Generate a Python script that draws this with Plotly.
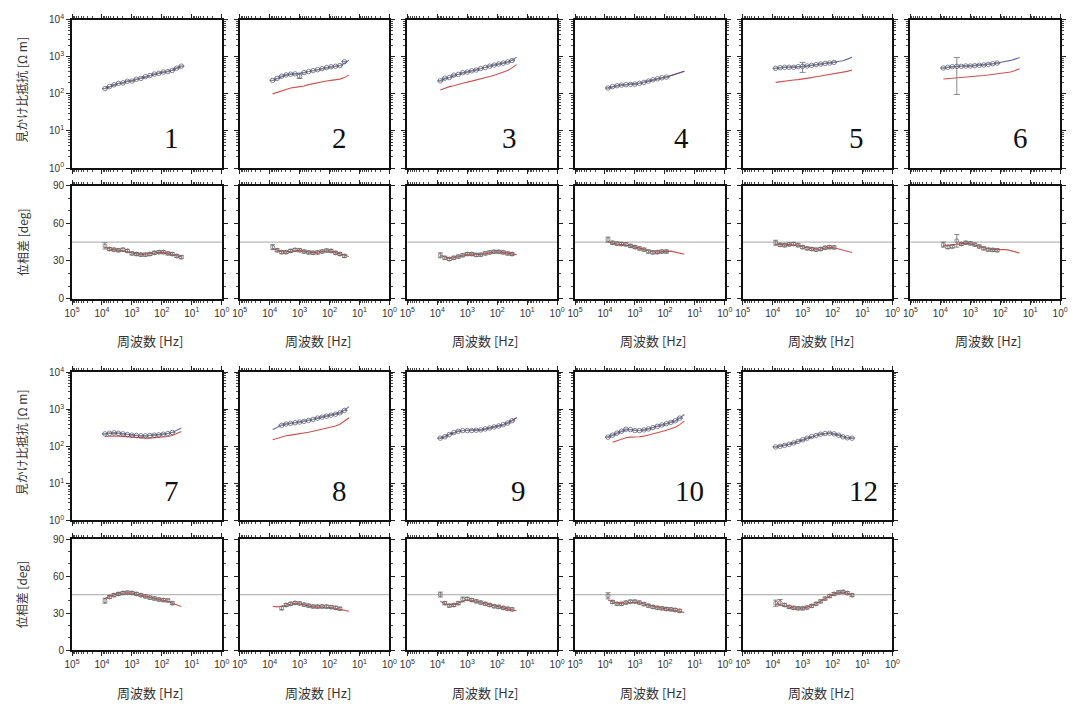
import plotly.graph_objects as go

# ---------------- data ----------------
FREQ_HZ = [7943, 5623, 3981, 2818, 1995, 1413, 1000, 708, 501, 355, 251, 178, 126, 89, 63, 45, 32, 22.4]
PANEL_NAMES = ["1", "2", "3", "4", "5", "6", "7", "8", "9", "10", "12"]
X_TICK_VALS = [1e5, 1e4, 1e3, 1e2, 1e1, 1]
X_TICK_TEXT = ["10<sup>5</sup>", "10<sup>4</sup>", "10<sup>3</sup>", "10<sup>2</sup>", "10<sup>1</sup>", "10<sup>0</sup>"]
RHO_TICK_VALS = [1, 10, 100, 1000, 10000]
RHO_TICK_TEXT = ["10<sup>0</sup>", "10<sup>1</sup>", "10<sup>2</sup>", "10<sup>3</sup>", "10<sup>4</sup>"]
PHS_TICK_VALS = [0, 30, 60, 90]
PHS_REF = 45

RHO_OBS_1 = [139, 158, 175, 192, 198, 220, 222, 248, 262, 292, 312, 343, 358, 388, 398, 430, 495, 560]
RHO_BLUE_1 = [139, 155, 177, 190, 200, 218, 225, 245, 265, 290, 315, 340, 360, 385, 400, 435, 490, 550]
RHO_RED_1 = [139, 155, 177, 190, 200, 218, 225, 245, 265, 290, 315, 340, 360, 385, 400, 435, 490, 550]
PHS_OBS_1 = [42, 39.5, 39, 38.5, 39, 38, 36, 35.5, 35, 35, 35.5, 36.5, 37, 37, 36, 35.5, 34, 33]
PHS_MOD_1 = [41, 39.5, 39, 38.6, 38.3, 37.5, 36.3, 35.5, 35.2, 35.3, 35.8, 36.5, 36.9, 36.8, 36, 35, 34, 33.4]

RHO_OBS_2 = [231, 262, 300, 325, 340, 347, 300, 375, 400, 425, 450, 480, 510, 540, 555, 580, 740, None]
RHO_BLUE_2 = [231, 262, 300, 325, 340, 347, 355, 375, 400, 425, 450, 480, 510, 540, 555, 580, 660, 815]
RHO_RED_2 = [100, 110, 123, 137, 144, 150, 156, 163, 178, 190, 200, 213, 222, 232, 240, 250, 275, 326]
PHS_OBS_2 = [41, 38.5, 37, 37, 38, 38.8, 38.5, 37.5, 36.8, 36.5, 36.8, 37.5, 38.3, 38, 36.5, 35.5, 34, None]
PHS_MOD_2 = [40, 38.5, 37.3, 37.2, 37.8, 38.5, 38.5, 37.6, 36.9, 36.6, 36.9, 37.5, 38.1, 37.8, 36.6, 35.5, 34.3, 33.5]

RHO_OBS_3 = [225, 265, 275, 320, 335, 372, 388, 420, 440, 485, 515, 560, 598, 640, 675, 725, 800, None]
RHO_BLUE_3 = [231, 255, 280, 313, 340, 368, 392, 417, 443, 480, 521, 554, 601, 638, 679, 722, 816, 980]
RHO_RED_3 = [128, 144, 157, 166, 181, 192, 208, 221, 235, 250, 272, 295, 319, 347, 376, 425, 502, 614]
PHS_OBS_3 = [34.5, 32.5, 31.5, 32.5, 33.5, 34.5, 35.5, 35.5, 34.8, 35, 36, 36.8, 37.3, 37.3, 36.8, 36, 35.5, None]
PHS_MOD_3 = [34.5, 33, 32, 32.6, 33.5, 34.5, 35.3, 35.4, 35, 35.1, 35.9, 36.7, 37.2, 37.2, 36.7, 36, 35.4, 35]

RHO_OBS_4 = [144, 157, 166, 173, 177, 181, 184, 192, 204, 221, 240, 255, 272, 283, None, None, None, None]
RHO_BLUE_4 = [144, 157, 166, 173, 177, 181, 184, 192, 204, 221, 240, 255, 272, 283, 307, 340, 368, 407]
RHO_RED_4 = [146, 158, 167, 174, 178, 182, 186, 194, 206, 222, 241, 256, 273, 285, 308, 341, 370, 410]
PHS_OBS_4 = [47, 44.5, 43.8, 43.5, 43.2, 42, 41, 40, 39, 37.5, 36.8, 37, 37.5, 37.5, None, None, None, None]
PHS_MOD_4 = [45, 44, 43.5, 43.2, 42.8, 42, 41, 40, 39, 38, 37.3, 37, 37.3, 37.8, 37.8, 37, 36, 35.4]

RHO_OBS_5 = [490, 510, 521, 521, 521, 543, 554, 565, 589, 614, 638, 665, 679, 708, None, None, None, None]
RHO_BLUE_5 = [490, 510, 521, 521, 521, 543, 554, 565, 589, 614, 638, 665, 679, 708, 736, 783, 867, 980]
RHO_RED_5 = [205, 215, 225, 232, 238, 243, 250, 262, 275, 290, 305, 320, 332, 345, 360, 375, 405, 443]
PHS_OBS_5 = [44.5, 42.8, 42.5, 43.2, 43.5, 42.5, 41, 40, 39.5, 39, 39.5, 40.5, 41, 40.8, None, None, None, None]
PHS_MOD_5 = [43.5, 43, 42.8, 43, 43, 42.5, 41.3, 40.3, 39.7, 39.3, 39.5, 40.3, 40.8, 40.5, 39.5, 38.5, 37.5, 36.7]

RHO_OBS_6 = [500, 521, 543, 554, 554, 565, 565, 577, 589, 601, 626, 652, 679, None, None, None, None, None]
RHO_BLUE_6 = [500, 521, 543, 554, 554, 565, 565, 577, 589, 601, 626, 652, 679, 708, 754, 800, 867, 960]
RHO_RED_6 = [253, 258, 263, 268, 273, 278, 285, 292, 300, 312, 322, 335, 345, 355, 368, 390, 425, 480]
PHS_OBS_6 = [43, 41, 41.5, 46, 43.5, 44.5, 44, 43, 41.5, 40, 39, 38.8, 38.5, None, None, None, None, None]
PHS_MOD_6 = [42.5, 42.5, 42.8, 43.2, 43.8, 44.2, 43.8, 42.8, 41.5, 40.3, 39.5, 39, 39, 39.3, 39, 38.2, 37.2, 36.3]

RHO_OBS_7 = [217, 225, 231, 225, 217, 208, 200, 196, 192, 192, 196, 200, 204, 212, 221, 236, None, None]
RHO_BLUE_7 = [217, 225, 231, 225, 217, 208, 200, 196, 192, 192, 196, 200, 204, 212, 221, 236, 265, 313]
RHO_RED_7 = [184, 190, 190, 188, 184, 177, 173, 169, 166, 166, 166, 169, 173, 177, 184, 196, 217, 250]
PHS_OBS_7 = [40, 43, 44.5, 45.5, 46.3, 46.6, 46.3, 45.5, 44.5, 43.5, 42.5, 41.8, 41, 40.5, 40.2, 38, None, None]
PHS_MOD_7 = [42, 43.5, 44.8, 45.8, 46.3, 46.5, 46.2, 45.5, 44.5, 43.5, 42.6, 41.8, 41.2, 40.5, 39.5, 38, 36.5, 35.3]

RHO_OBS_8 = [None, None, 368, 400, 417, 434, 452, 471, 501, 532, 577, 614, 652, 693, 736, 800, 930, None]
RHO_BLUE_8 = [283, 326, 368, 400, 417, 434, 452, 471, 501, 532, 577, 614, 652, 693, 736, 800, 940, 1178]
RHO_RED_8 = [150, 165, 180, 192, 200, 208, 218, 228, 240, 255, 270, 290, 310, 330, 355, 395, 470, 590]
PHS_OBS_8 = [None, None, 34, 36.5, 37.5, 38.2, 37.8, 36.8, 36, 35.3, 35.2, 35.3, 35.2, 34.8, 34.3, 33.5, None, None]
PHS_MOD_8 = [35.5, 35, 35.5, 36.5, 37.5, 38, 37.5, 36.5, 35.5, 35, 35, 35, 35, 34.5, 33.8, 33, 32.2, 31.5]

RHO_OBS_9 = [166, 181, 208, 235, 255, 266, 266, 266, 272, 277, 295, 313, 333, 354, 384, 425, 490, None]
RHO_BLUE_9 = [166, 181, 208, 235, 255, 266, 266, 266, 272, 277, 295, 313, 333, 354, 384, 425, 490, 589]
RHO_RED_9 = [168, 183, 210, 236, 256, 267, 267, 267, 273, 278, 296, 314, 334, 355, 385, 426, 492, 592]
PHS_OBS_9 = [45, 38, 36, 36.5, 38, 41, 41.5, 40.5, 39.5, 38.5, 37.5, 36.5, 35.5, 35, 34.2, 33.5, 33, None]
PHS_MOD_9 = [39.5, 37.5, 36.5, 36.8, 38, 39.8, 40.8, 40.5, 39.6, 38.6, 37.6, 36.6, 35.7, 35, 34.2, 33.4, 32.6, 31.8]

RHO_OBS_10 = [177, 200, 226, 255, 289, 283, 266, 266, 277, 295, 319, 347, 376, 408, 443, 490, 577, None]
RHO_BLUE_10 = [177, 200, 226, 255, 280, 280, 270, 268, 277, 295, 319, 347, 376, 408, 443, 490, 577, 722]
RHO_RED_10 = [None, 128, 141, 157, 170, 177, 177, 181, 188, 200, 217, 235, 250, 272, 295, 326, 384, 480]
PHS_OBS_10 = [44, 39, 37.5, 37.5, 38.5, 39.3, 39.3, 38.5, 37.2, 36, 35, 34.3, 33.8, 33.3, 33, 32.5, 31.8, None]
PHS_MOD_10 = [40.5, 39, 38, 37.8, 38.4, 39, 39, 38.3, 37.2, 36.1, 35.2, 34.5, 34, 33.5, 33, 32.3, 31.5, 30.5]

RHO_OBS_12 = [96, 100, 106, 113, 123, 136, 150, 166, 184, 196, 212, 221, 226, 217, 200, 181, 170, 166]
RHO_BLUE_12 = [96, 100, 106, 113, 123, 136, 150, 166, 184, 196, 212, 221, 226, 217, 200, 181, 170, 166]
RHO_RED_12 = [97, 101, 107, 114, 124, 137, 151, 167, 185, 197, 213, 222, 227, 218, 201, 182, 171, 167]
PHS_OBS_12 = [38, 38.5, 36.5, 35, 34.2, 33.8, 33.8, 34.5, 35.8, 37.5, 39.5, 41.7, 43.8, 45.5, 46.8, 47.2, 46.2, 44.5]
PHS_MOD_12 = [37.5, 36.5, 35.5, 34.8, 34.2, 33.9, 34, 34.7, 35.9, 37.6, 39.6, 41.8, 43.9, 45.6, 46.7, 47, 46, 44.5]

# observed error bars
PHS_ERR_DEFAULT = 1.2
PHS_ERR_FIRST = [2.5, 2, 2, 2, 2, 2, 2, 1.5, 2, 2.5, 2.5]
PHS_ERR_SPECIAL_PANEL = ["6", "9", "12"]
PHS_ERR_SPECIAL_INDEX = [3, 5, 1]
PHS_ERR_SPECIAL_VALUE = [5, 2, 2.5]
RHO_ERR_PANEL = ["2", "5", "6"]
RHO_ERR_INDEX = [6, 6, 3]
RHO_ERR_LOW = [262, 380, 96]
RHO_ERR_HIGH = [345, 708, 960]

RHO_OBS = [RHO_OBS_1, RHO_OBS_2, RHO_OBS_3, RHO_OBS_4, RHO_OBS_5, RHO_OBS_6,
           RHO_OBS_7, RHO_OBS_8, RHO_OBS_9, RHO_OBS_10, RHO_OBS_12]
RHO_BLUE = [RHO_BLUE_1, RHO_BLUE_2, RHO_BLUE_3, RHO_BLUE_4, RHO_BLUE_5, RHO_BLUE_6,
            RHO_BLUE_7, RHO_BLUE_8, RHO_BLUE_9, RHO_BLUE_10, RHO_BLUE_12]
RHO_RED = [RHO_RED_1, RHO_RED_2, RHO_RED_3, RHO_RED_4, RHO_RED_5, RHO_RED_6,
           RHO_RED_7, RHO_RED_8, RHO_RED_9, RHO_RED_10, RHO_RED_12]
PHS_OBS = [PHS_OBS_1, PHS_OBS_2, PHS_OBS_3, PHS_OBS_4, PHS_OBS_5, PHS_OBS_6,
           PHS_OBS_7, PHS_OBS_8, PHS_OBS_9, PHS_OBS_10, PHS_OBS_12]
PHS_MOD = [PHS_MOD_1, PHS_MOD_2, PHS_MOD_3, PHS_MOD_4, PHS_MOD_5, PHS_MOD_6,
           PHS_MOD_7, PHS_MOD_8, PHS_MOD_9, PHS_MOD_10, PHS_MOD_12]

# ---------------- layout geometry (pixels) ----------------
W, H = 1077, 711
COL_LEFT0, COL_STEP, PANEL_W = 65, 170.2, 152
ROW_RES = [(13, 164), (372, 523)]
ROW_PHS = [(182, 297), (542, 655)]
LABEL_DX = [101, 101, 104, 108, 115, 112, 101, 101, 113, 116, 123]

BLUE = "#3b46a6"
RED = "#d2504c"
MARK = "#4d5070"
TXT = "#333333"
SANS = "Liberation Sans, Arial, sans-serif"
CJK = "Noto Sans CJK JP, sans-serif"


def xd(col):
    left = COL_LEFT0 + col * COL_STEP
    return [left / W, (left + PANEL_W) / W]


def yd(top, bot):
    return [1 - bot / H, 1 - top / H]


fig = go.Figure()
layout = dict(width=W, height=H, margin=dict(l=0, r=0, t=0, b=0),
              paper_bgcolor="white", plot_bgcolor="white", showlegend=False,
              font=dict(family=SANS, size=11, color=TXT))
annotations = []
shapes = []

axis_common = dict(showline=True, linewidth=2, linecolor="#111", mirror="allticks",
                   ticks="outside", ticklen=4, tickwidth=1, tickcolor="#222",
                   showgrid=False, zeroline=False, tickfont=dict(size=10, color=TXT, family=SANS))

for i, name in enumerate(PANEL_NAMES):
    row = 0 if i < 6 else 1
    col = i if i < 6 else i - 6
    nr, npz = 2 * i + 1, 2 * i + 2
    xr_key = "xaxis" if nr == 1 else f"xaxis{nr}"
    yr_key = "yaxis" if nr == 1 else f"yaxis{nr}"
    xp_key, yp_key = f"xaxis{npz}", f"yaxis{npz}"
    xr_ref = "x" if nr == 1 else f"x{nr}"
    yr_ref = "y" if nr == 1 else f"y{nr}"
    xp_ref, yp_ref = f"x{npz}", f"y{npz}"

    xlog = dict(axis_common, type="log", range=[5, 0], tickmode="array",
                tickvals=X_TICK_VALS, ticktext=X_TICK_TEXT,
                minor=dict(ticks="outside", ticklen=2, tickcolor="#444", dtick="D1", showgrid=False))
    layout[xr_key] = dict(xlog, domain=xd(col), anchor=yr_ref, showticklabels=False)
    layout[xp_key] = dict(xlog, domain=xd(col), anchor=yp_ref, showticklabels=True)
    layout[yr_key] = dict(axis_common, type="log", range=[0, 4], domain=yd(*ROW_RES[row]),
                          anchor=xr_ref, tickmode="array", tickvals=RHO_TICK_VALS,
                          ticktext=RHO_TICK_TEXT, showticklabels=(col == 0),
                          minor=dict(ticks="outside", ticklen=2, tickcolor="#444", dtick="D1", showgrid=False))
    layout[yp_key] = dict(axis_common, range=[0, 90], domain=yd(*ROW_PHS[row]),
                          anchor=xp_ref, tickmode="array", tickvals=PHS_TICK_VALS,
                          showticklabels=(col == 0),
                          minor=dict(ticks="outside", ticklen=2, tickcolor="#444", dtick=10, showgrid=False))

    # resistivity
    fig.add_trace(go.Scatter(x=FREQ_HZ, y=RHO_RED[i], mode="lines", line=dict(color=RED, width=1.1),
                             xaxis=xr_ref, yaxis=yr_ref))
    fig.add_trace(go.Scatter(x=FREQ_HZ, y=RHO_BLUE[i], mode="lines", line=dict(color=BLUE, width=1.1),
                             opacity=0.8, xaxis=xr_ref, yaxis=yr_ref))
    up = [0.0] * len(FREQ_HZ)
    dn = [0.0] * len(FREQ_HZ)
    for p, k, lo, hi in zip(RHO_ERR_PANEL, RHO_ERR_INDEX, RHO_ERR_LOW, RHO_ERR_HIGH):
        if p == name:
            up[k] = hi - RHO_OBS[i][k]
            dn[k] = RHO_OBS[i][k] - lo
    fig.add_trace(go.Scatter(x=FREQ_HZ, y=RHO_OBS[i], mode="markers",
                             marker=dict(symbol="circle-open", size=4.5, color=MARK, line=dict(width=0.7)),
                             error_y=dict(type="data", symmetric=False, array=up, arrayminus=dn,
                                          color="#8a8a8a", thickness=1, width=3),
                             xaxis=xr_ref, yaxis=yr_ref))

    # phase
    shapes.append(dict(type="line", xref=f"{xp_ref} domain", yref=yp_ref, x0=0, x1=1,
                       y0=PHS_REF, y1=PHS_REF, line=dict(color="#b8b8b8", width=1.2), layer="below"))
    fig.add_trace(go.Scatter(x=FREQ_HZ, y=PHS_MOD[i], mode="lines", line=dict(color=RED, width=1.1),
                             xaxis=xp_ref, yaxis=yp_ref))
    perr = [PHS_ERR_DEFAULT] * len(FREQ_HZ)
    first = next(k for k, v in enumerate(PHS_OBS[i]) if v is not None)
    perr[first] = PHS_ERR_FIRST[i]
    for p, k, v in zip(PHS_ERR_SPECIAL_PANEL, PHS_ERR_SPECIAL_INDEX, PHS_ERR_SPECIAL_VALUE):
        if p == name:
            perr[k] = v
    fig.add_trace(go.Scatter(x=FREQ_HZ, y=PHS_OBS[i], mode="markers",
                             marker=dict(symbol="circle-open", size=4, color="#6a5a5a", line=dict(width=0.7)),
                             error_y=dict(type="data", array=perr, color="#7a7a7a", thickness=0.9, width=2.5),
                             xaxis=xp_ref, yaxis=yp_ref))

    # panel number
    annotations.append(dict(text=name, xref=f"{xr_ref} domain", yref=f"{yr_ref} domain",
                            x=LABEL_DX[i] / PANEL_W, y=0.2, xanchor="center", yanchor="middle",
                            showarrow=False, font=dict(family="Liberation Serif, Times New Roman, serif",
                                                       size=29, color="#111")))
    # x title
    cx = (COL_LEFT0 + col * COL_STEP + PANEL_W / 2 + 3) / W
    ty = 340 if row == 0 else 698
    annotations.append(dict(text="周波数 [Hz]", xref="paper", yref="paper", x=cx, y=1 - ty / H,
                            xanchor="center", yanchor="middle", showarrow=False,
                            font=dict(family=CJK, size=13, color=TXT)))

for row in range(2):
    rt, rb = ROW_RES[row]
    pt, pb = ROW_PHS[row]
    annotations.append(dict(text="見かけ比抵抗 [Ω m]", xref="paper", yref="paper", x=14 / W,
                            y=1 - ((rt + rb) / 2 - 4) / H, textangle=-90, xanchor="center",
                            yanchor="middle", showarrow=False, font=dict(family=CJK, size=12, color=TXT)))
    annotations.append(dict(text="位相差 [deg]", xref="paper", yref="paper", x=14 / W,
                            y=1 - ((pt + pb) / 2) / H, textangle=-90, xanchor="center",
                            yanchor="middle", showarrow=False, font=dict(family=CJK, size=12, color=TXT)))

layout["annotations"] = annotations
layout["shapes"] = shapes
fig.update_layout(**layout)
fig.write_html("out.html")
